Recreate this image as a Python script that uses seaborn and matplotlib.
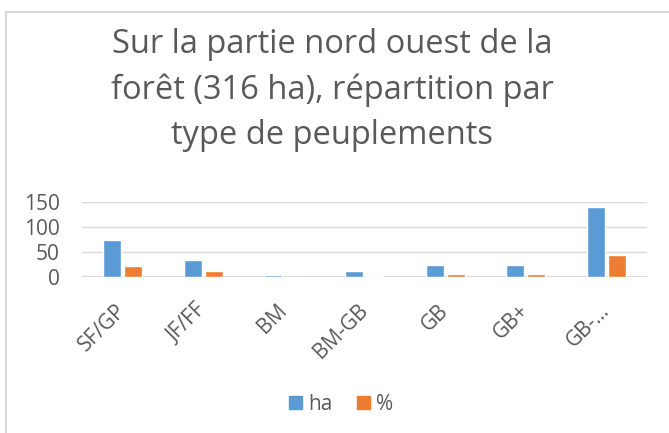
import pandas as pd
import matplotlib.pyplot as plt
from matplotlib.patches import Rectangle
import seaborn as sns

# Values
categories = ['SF/GP', 'JF/FF', 'BM', 'BM-GB', 'GB', 'GB+', 'GB-...']
ha = [74, 34, 4, 12, 24, 24, 141]
pct = [22, 12, 1, 3, 6, 6, 44]
series = ['ha', '%']
colors = ['#5B9BD5', '#ED7D31']

df = pd.DataFrame({
    'type': categories * 2,
    'serie': ['ha'] * len(categories) + ['%'] * len(categories),
    'valeur': ha + pct,
})

sns.set_style('white')
plt.rcParams['font.family'] = ['Open Sans', 'DejaVu Sans']

fig = plt.figure(figsize=(6.69, 4.33), dpi=100)
ax = fig.add_axes([82 / 669, 156 / 433, 565 / 669, 75 / 433])

sns.barplot(data=df, x='type', y='valeur', hue='serie', hue_order=series,
            palette=colors, width=0.52, gap=0.14, ax=ax, legend=False,
            saturation=1, zorder=3)

ax.set_ylim(0, 150)
ax.set_yticks([0, 50, 100, 150])
ax.set_xlim(-0.5, len(categories) - 0.5)
ax.yaxis.grid(True, color='#d9d9d9', linewidth=1)
ax.set_axisbelow(True)
ax.axhline(0, color='#d9d9d9', linewidth=1.5, zorder=0.5)
for s in ax.spines.values():
    s.set_visible(False)
ax.set_xlabel('')
ax.set_ylabel('')
ax.tick_params(axis='y', length=0, pad=16, labelsize=15, labelcolor='#595959')
ax.tick_params(axis='x', length=0, pad=22, labelsize=15, labelcolor='#595959')
plt.setp(ax.get_xticklabels(), rotation=45, ha='right', va='center',
         rotation_mode='anchor')

fig.text(0.497, 1 - 90 / 433,
         'Sur la partie nord ouest de la\nforêt (316 ha), répartition par\ntype de peuplements',
         ha='center', va='center', fontsize=23.5, color='#595959', linespacing=1.5)

handles = [Rectangle((0, 0), 1, 1, color=c) for c in colors]
fig.legend(handles, series, loc='center', bbox_to_anchor=(0.51, 1 - 404 / 433),
           ncol=2, frameon=False, fontsize=15, labelcolor='#595959',
           handlelength=0.6, handleheight=0.6, handletextpad=0.3, columnspacing=1.2)

# chart area border (only left and top visible in the reference)
fig.patches.append(Rectangle((6 / 669, -0.1), 1.2, 1 - 12 / 433 + 0.1,
                             transform=fig.transFigure, fill=False,
                             edgecolor='#d9d9d9', linewidth=1.5))

fig.savefig('out.png', dpi=100)
